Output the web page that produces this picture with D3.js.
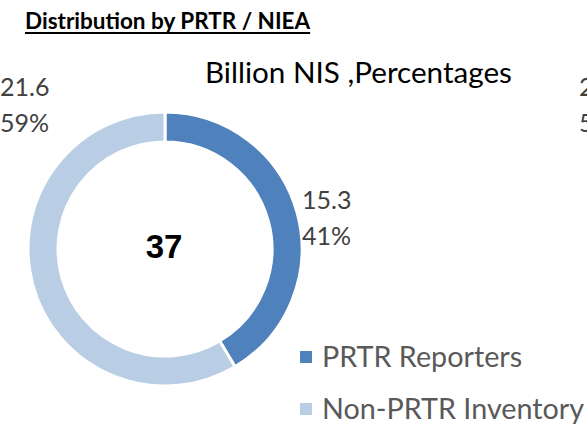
<!DOCTYPE html>
<html>
<head>
<meta charset="utf-8">
<script src="https://cdn.jsdelivr.net/npm/d3@7"></script>
<style>
	body { margin: 0; background: #fff; }
	svg { display: block; }
</style>
</head>
<body>
<svg width="587" height="425"></svg>
<script>
// --- Data ---
const categories = ["PRTR Reporters", "Non-PRTR Inventory"];
const values = [15.3, 21.6];
const percentLabels = ["41%", "59%"];
const totalLabel = "37";
const colors = ["#4F81BD", "#B9CDE5"];

const svg = d3.select("svg");
const cx = 165, cy = 249;
const outerR = 137, innerR = 107;
const FONT = "Lato, 'Open Sans', sans-serif";

// scale a text's font size so it spans the given width
function fitWidth(sel, width) {
	const fs = +sel.attr("font-size");
	const w = sel.node().getComputedTextLength();
	sel.attr("font-size", (fs * width) / w);
}

// --- Title ---
const title = svg.append("text")
	.attr("x", 25)
	.attr("y", 29)
	.attr("font-family", FONT)
	.attr("font-weight", "bold")
	.attr("font-size", 22.5)
	.attr("fill", "#000")
	.text("Distribution by PRTR / NIEA");
const tw = title.node().getComputedTextLength();
svg.append("line")
	.attr("x1", 25).attr("x2", 25 + tw)
	.attr("y1", 33).attr("y2", 33)
	.attr("stroke", "#000").attr("stroke-width", 2);

const sub = svg.append("text")
	.attr("x", 205)
	.attr("y", 83)
	.attr("font-family", FONT)
	.attr("font-size", 25)
	.attr("fill", "#000")
	.text("Billion NIS ,Percentages");
fitWidth(sub, 307);

// --- Donut ---
const pie = d3.pie().sort(null).value((d) => d)(values);
const arc = d3.arc().innerRadius(innerR).outerRadius(outerR);

const g = svg.append("g").attr("transform", `translate(${cx},${cy})`);
g.selectAll("path")
	.data(pie)
	.enter()
	.append("path")
	.attr("d", arc)
	.attr("fill", (d, i) => colors[i])
	.attr("stroke", "#fff")
	.attr("stroke-width", 3);

g.append("text")
	.attr("text-anchor", "middle")
	.attr("x", -1)
	.attr("y", 9)
	.attr("font-family", "'Liberation Sans', Arial, sans-serif")
	.attr("font-weight", "bold")
	.attr("font-size", 33)
	.attr("fill", "#000")
	.text(totalLabel);

// data labels
const labelPos = [
	{ x: 302, y: 209 },
	{ x: 0, y: 96 }
];
pie.forEach((d, i) => {
	const t = svg.append("text")
		.attr("x", labelPos[i].x)
		.attr("y", labelPos[i].y)
		.attr("font-family", FONT)
		.attr("font-size", 25)
		.attr("fill", "#404040");
	t.append("tspan").attr("x", labelPos[i].x).text(values[i].toFixed(1));
	t.append("tspan").attr("x", labelPos[i].x).attr("dy", 36).text(percentLabels[i]);
});

// labels of the neighbouring chart, cut by the right edge
const side = svg.append("text")
	.attr("x", 579)
	.attr("y", 96)
	.attr("font-family", FONT)
	.attr("font-size", 25)
	.attr("fill", "#404040");
side.append("tspan").attr("x", 579).text("2");
side.append("tspan").attr("x", 579).attr("dy", 36).text("5");

// --- Legend ---
const legend = svg.append("g");
const legendWidths = [201, 261];
const legendTexts = categories.map((c, i) => {
	const y = 357 + i * 52;
	legend.append("rect")
		.attr("x", 300).attr("y", y - 6)
		.attr("width", 12).attr("height", 12)
		.attr("fill", colors[i]);
	return legend.append("text")
		.attr("x", 322).attr("y", y + 10)
		.attr("font-family", FONT)
		.attr("font-size", 27)
		.attr("fill", "#595959")
		.text(c);
});
// one shared size that best fits both entries
const sizes = legendTexts.map((t, i) => (27 * legendWidths[i]) / t.node().getComputedTextLength());
const legendSize = d3.mean(sizes);
legendTexts.forEach((t) => t.attr("font-size", legendSize));
</script>
</body>
</html>
